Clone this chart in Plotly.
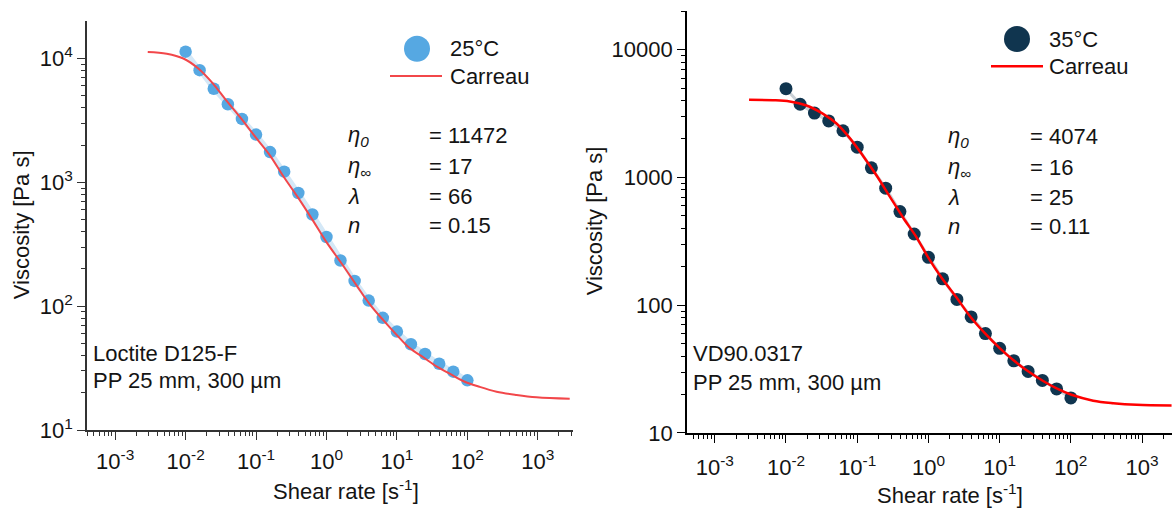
import plotly.graph_objects as go

W, H = 1172, 523

# ---------------- data ----------------
shear_rate = [0.01, 0.0158, 0.0251, 0.0398, 0.0631, 0.1, 0.158, 0.251, 0.398, 0.631,
              1, 1.58, 2.51, 3.98, 6.31, 10, 15.8, 25.1, 39.8, 63.1, 100]
visc_25C = [11350, 8050, 5700, 4270, 3250, 2430, 1755, 1220, 820, 550,
            362, 234, 160, 111, 80.5, 62.4, 49.3, 41.1, 34.3, 29.6, 25.2]
visc_35C = [4950, 3740, 3190, 2770, 2320, 1725, 1190, 825, 541, 361,
            237, 161, 111, 81, 60, 46, 36.7, 30.3, 25.8, 22.1, 18.8]

# Carreau fit curves
carreau_left_x = [0.0029, 0.0054, 0.0093, 0.015, 0.024, 0.038, 0.059, 0.097, 0.16, 0.24,
                  0.40, 0.65, 1.0, 1.7, 2.7, 4.1, 6.4, 9.9, 15, 24, 37, 57, 87, 150,
                  260, 500, 960, 2840]
carreau_left_y = [11300, 10940, 10000, 8340, 6350, 4560, 3370, 2340, 1630, 1135,
                  745, 486, 329, 215, 146, 104, 77.1, 58.7, 46.1, 38.5, 32.5, 28.4,
                  24.9, 22.3, 20.4, 19.2, 18.4, 17.9]
carreau_right_x = [0.00303, 0.00659, 0.0113, 0.0194, 0.0332, 0.0512, 0.0787, 0.121, 0.187,
                   0.287, 0.442, 0.681, 0.99, 1.53, 2.48, 3.81, 6.19, 10.1, 15.5, 25.1,
                   40.8, 63.0, 102, 206, 393, 838, 2594]
carreau_right_y = [4055, 4027, 3936, 3656, 3148, 2642, 2032, 1472, 1035, 708, 484, 340,
                   237, 164, 115, 82.4, 60.4, 45.9, 37.2, 30.4, 25.5, 22.3, 19.9, 17.9,
                   17.1, 16.6, 16.4]

x_tickvals = [1e-3, 1e-2, 1e-1, 1, 10, 100, 1000]
x_ticktext = ["10<sup>-3</sup>", "10<sup>-2</sup>", "10<sup>-1</sup>", "10<sup>0</sup>",
              "10<sup>1</sup>", "10<sup>2</sup>", "10<sup>3</sup>"]
yl_tickvals = [10, 100, 1000, 10000]
yl_ticktext = ["10<sup>1</sup>", "10<sup>2</sup>", "10<sup>3</sup>", "10<sup>4</sup>"]
yr_tickvals = [10, 100, 1000, 10000]
yr_ticktext = ["10", "100", "1000", "10000"]

params_left = [("<i>η</i><sub><i>0</i></sub>", "= 11472"), ("<i>η</i><sub>∞</sub>", "= 17"),
               ("<i>λ</i>", "= 66"), ("<i>n</i>", "= 0.15")]
params_right = [("<i>η</i><sub><i>0</i></sub>", "= 4074"), ("<i>η</i><sub>∞</sub>", "= 16"),
                ("<i>λ</i>", "= 25"), ("<i>n</i>", "= 0.11")]

# ---------------- styling ----------------
FONT = "Arial, 'Liberation Sans', sans-serif"
TXT = "#141414"
BLUE = "#56a8e2"
NAVY = "#10354f"
RED_L = "#f2474a"
RED_R = "#ff0000"
FS = 22

minor_vals = [m * 10 ** e for e in range(-5, 6) for m in range(2, 10)]


def px(x):
    return x / W


def py(y):
    return 1 - y / H


fig = go.Figure()

fig.add_trace(go.Scatter(x=shear_rate, y=visc_25C, mode="lines+markers",
                         line=dict(color="#d4e8f7", width=5),
                         marker=dict(color=BLUE, size=12.5), showlegend=False,
                         xaxis="x", yaxis="y"))
fig.add_trace(go.Scatter(x=carreau_left_x, y=carreau_left_y, mode="lines",
                         line=dict(color=RED_L, width=2, shape="spline"),
                         showlegend=False, xaxis="x", yaxis="y"))
fig.add_trace(go.Scatter(x=shear_rate, y=visc_35C, mode="lines+markers",
                         line=dict(color="#c9d0d6", width=3),
                         marker=dict(color=NAVY, size=13), showlegend=False,
                         xaxis="x2", yaxis="y2"))
fig.add_trace(go.Scatter(x=carreau_right_x, y=carreau_right_y, mode="lines",
                         line=dict(color=RED_R, width=2.5, shape="spline"),
                         showlegend=False, xaxis="x2", yaxis="y2"))


def axis(domain, rng, tv, tt, anchor, color, lw, standoff):
    return dict(type="log", domain=domain, range=rng, anchor=anchor,
                tickmode="array", tickvals=tv, ticktext=tt,
                ticks="outside", ticklen=8, tickwidth=1.3, tickcolor=color,
                ticklabelstandoff=standoff,
                showline=True, linecolor=color, linewidth=lw,
                showgrid=False, zeroline=False, mirror=False,
                tickfont=dict(family=FONT, size=FS, color=TXT),
                minor=dict(tickvals=minor_vals, ticks="outside", ticklen=4,
                           tickwidth=1.1, tickcolor=color, showgrid=False))


fig.update_layout(
    width=W, height=H, margin=dict(l=0, r=0, t=0, b=0),
    paper_bgcolor="white", plot_bgcolor="white", showlegend=False,
    font=dict(family=FONT, size=FS, color=TXT),
    xaxis=axis([px(87), px(573)], [-3.4, 3.5], x_tickvals, x_ticktext, "y", "#333333", 1.5, 3),
    yaxis=axis([py(441), py(22)], [1, 4.299], yl_tickvals, yl_ticktext, "x", "#333333", 1.5, 0),
    xaxis2=axis([px(687), 1.0], [-3.39, 3.42], x_tickvals, x_ticktext, "y2", "#000000", 1.8, 6),
    yaxis2=axis([py(444), py(11)], [1, 4.305], yr_tickvals, yr_ticktext, "x2", "#000000", 1.8, 0),
)

ann = []


def text(x, y, s, size=FS, xanchor="left", angle=0):
    ann.append(dict(x=px(x), y=py(y), xref="paper", yref="paper", text=s, showarrow=False,
                    xanchor=xanchor, yanchor="middle", textangle=angle,
                    font=dict(family=FONT, size=size, color=TXT)))


# axis titles
text(346, 503, "Shear rate [s<sup>-1</sup>]", xanchor="center")
text(950, 507, "Shear rate [s<sup>-1</sup>]", xanchor="center")
text(21, 231, "Viscosity [Pa s]", xanchor="center", angle=-90)
text(594, 227, "Viscosity [Pa s]", xanchor="center", angle=-90)

# legends
text(448, 50, "25°C")
text(448, 78, "Carreau")
text(1047, 40, "35°C")
text(1047, 68, "Carreau")

# parameters
for i, (sym, val) in enumerate(params_left):
    yy = [139, 171, 202, 231][i]
    text(346, yy, sym)
    text(427, yy, val)
for i, (sym, val) in enumerate(params_right):
    yy = [140, 172, 203, 232][i]
    text(946, yy, sym)
    text(1028, yy, val)

# sample descriptions
text(91, 362, "Loctite D125-F")
text(91, 390, "PP 25 mm, 300 µm")
text(691, 363, "VD90.0317")
text(691, 392, "PP 25 mm, 300 µm")

fig.update_layout(annotations=ann)

shapes = [
    dict(type="circle", xref="paper", yref="paper", xsizemode="pixel", ysizemode="pixel",
         xanchor=px(417), yanchor=py(50), x0=-13, x1=13, y0=-13, y1=13,
         fillcolor=BLUE, line=dict(width=0)),
    dict(type="line", xref="paper", yref="paper", x0=px(390), x1=px(442), y0=py(78), y1=py(78),
         line=dict(color=RED_L, width=2)),
    dict(type="circle", xref="paper", yref="paper", xsizemode="pixel", ysizemode="pixel",
         xanchor=px(1017), yanchor=py(40), x0=-13, x1=13, y0=-13, y1=13,
         fillcolor=NAVY, line=dict(width=0)),
    dict(type="line", xref="paper", yref="paper", x0=px(991), x1=px(1043), y0=py(68), y1=py(68),
         line=dict(color=RED_R, width=2.5)),
]
fig.update_layout(shapes=shapes)

fig.write_html("out.html")
